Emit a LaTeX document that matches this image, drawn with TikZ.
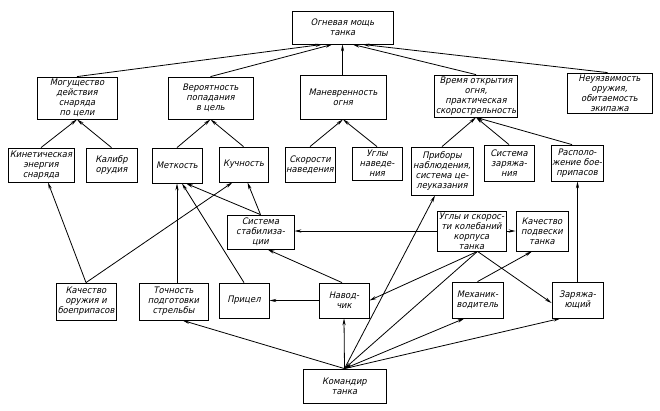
\documentclass[tikz,border=0pt]{standalone}
\usepackage{fontspec}
\setmainfont{DejaVu Sans}
\newfontfamily\diagfont{DejaVu Sans}[FakeSlant=0.22,FakeStretch=0.93]
\usetikzlibrary{arrows.meta,calc}
\begin{document}
\begin{tikzpicture}[x=1pt,y=-1pt,
  box/.style={draw,line width=0.8pt,align=center,inner sep=1pt,
    font=\diagfont\fontsize{9}{10}\selectfont},
  arr/.style={line width=0.8pt,-{Stealth[length=7pt,width=3.2pt]}},
  darr/.style={line width=0.8pt,{Stealth[length=7pt,width=3.2pt]}-{Stealth[length=7pt,width=3.2pt]}}]
\fill[white] (0,0) rectangle (660,410);
\useasboundingbox (0,0) rectangle (660,410);
% level 1
\node[box,minimum width=101,minimum height=33] (og) at (342.5,27.5) {Огневая мощь\\танка};
% level 2
\node[box,minimum width=80,minimum height=42] (mog) at (77,98) {Могущество\\действия\\снаряда\\по цели};
\node[box,minimum width=85,minimum height=42] (ver) at (210.5,98) {Вероятность\\попадания\\в цель};
\node[box,minimum width=86,minimum height=44] (man) at (343,97) {Маневренность\\огня};
\node[box,minimum width=82,minimum height=42] (vrem) at (476,96) {Время открытия\\огня,\\практическая\\скорострельность};
\node[box,minimum width=85,minimum height=40] (neu) at (609.5,93) {Неуязвимость\\оружия,\\обитаемость\\экипажа};
% level 3
\node[box,minimum width=66,minimum height=34] (kin) at (41,165) {Кинетическая\\энергия\\снаряда};
\node[box,minimum width=51,minimum height=34] (kal) at (111.5,165) {Калибр\\орудия};
\node[box,minimum width=50,minimum height=35] (met) at (177,165.5) {Меткость};
\node[box,minimum width=49,minimum height=35] (kuch) at (243.5,164.5) {Кучность};
\node[box,minimum width=50,minimum height=35] (skor) at (310,164.5) {Скорости\\наведения};
\node[box,minimum width=50,minimum height=33] (ugl) at (377,163.5) {Углы\\наведе-\\ния};
\node[box,minimum width=62,minimum height=48] (prib) at (442,171) {Приборы\\наблюдения,\\система це-\\леуказания};
\node[box,minimum width=50,minimum height=36] (sysz) at (509,163) {Система\\заряжа-\\ния};
\node[box,minimum width=50,minimum height=36] (rasp) at (577,163) {Располо-\\жение бое-\\припасов};
% level 4
\node[box,minimum width=67,minimum height=34] (stab) at (260.5,232) {Система\\стабилиза-\\ции};
\node[box,minimum width=69,minimum height=40] (ugk) at (471.5,231) {Углы и скорос-\\ти колебаний\\корпуса\\танка};
\node[box,minimum width=52,minimum height=40] (kpod) at (542,231) {Качество\\подвески\\танка};
% level 5
\node[box,minimum width=60,minimum height=37] (kor) at (86,301.5) {Качество\\оружия и\\боеприпасов};
\node[box,minimum width=69,minimum height=37] (toch) at (173.5,301.5) {Точность\\подготовки\\стрельбы};
\node[box,minimum width=50,minimum height=35] (pric) at (244,300.5) {Прицел};
\node[box,minimum width=50,minimum height=35] (nav) at (344,300.5) {Навод-\\чик};
\node[box,minimum width=51,minimum height=36] (meh) at (477.5,300) {Механик-\\водитель};
\node[box,minimum width=51,minimum height=36] (zar) at (577.5,300) {Заряжа-\\ющий};
% bottom
\node[box,minimum width=83,minimum height=34] (kom) at (344.5,386) {Командир\\танка};
% edges to top
\draw[arr] (mog.north) -- ([xshift=-20pt]og.south);
\draw[arr] (ver.north) -- ([xshift=-10pt]og.south);
\draw[arr] (man.north -| og.south) -- (og.south);
\draw[arr] (vrem.north) -- ([xshift=10pt]og.south);
\draw[arr] ([xshift=-2pt]neu.north) -- ([xshift=20pt]og.south);
% level 3 -> level 2
\draw[arr] (kin.north) -- (mog.south);
\draw[arr] (kal.north) -- (mog.south);
\draw[arr] (met.north) -- (ver.south);
\draw[arr] (kuch.north) -- (ver.south);
\draw[arr] (skor.north) -- (man.south);
\draw[arr] (ugl.north) -- (man.south);
\draw[arr] (prib.north) -- (vrem.south);
\draw[arr] (sysz.north) -- (vrem.south);
\draw[arr] ([xshift=-5pt]rasp.north) -- (vrem.south);
% lower edges
\draw[arr] (kor.north) -- ([xshift=7pt]kin.south);
\draw[arr] (kor.north) -- ([xshift=-11pt]kuch.south);
\draw[arr] (toch.north -| met.south) -- (met.south);
\draw[arr] (pric.north) -- ([xshift=5pt]met.south);
\draw[arr] (stab.north) -- ([xshift=9pt]met.south);
\draw[arr] (stab.north) -- ([xshift=4pt]kuch.south);
\draw[arr] (ugk.west) -- (ugk.west -| stab.east);
\draw[arr] (ugk.east) -- (ugk.east -| kpod.west);
\draw[arr] ([xshift=6pt]ugk.south) -- ([yshift=-3pt]zar.west);
\draw[arr] ([xshift=6pt]ugk.south) -- (nav.east);
\draw[arr] ([xshift=6pt]ugk.south) -- (kom.north);
\draw[arr] (kom.north) -- ([xshift=-7pt]prib.south);
\draw[arr] (nav.west) -- (nav.west -| pric.east);
\draw[arr] ([xshift=-2pt]nav.north) -- ([xshift=7pt]stab.south);
\draw[arr] (kom.north) -- (nav.south);
\draw[arr] (kom.north) -- ([xshift=9pt]toch.south);
\draw[arr] (zar.north) -- (zar.north |- rasp.south);
\draw[arr] (meh.north) -- ([xshift=-10pt]kpod.south);
\draw[darr] (kom.north) -- ([xshift=-13pt]meh.south);
\draw[arr] (kom.north) -- ([xshift=-17pt]zar.south);
\end{tikzpicture}
\end{document}
